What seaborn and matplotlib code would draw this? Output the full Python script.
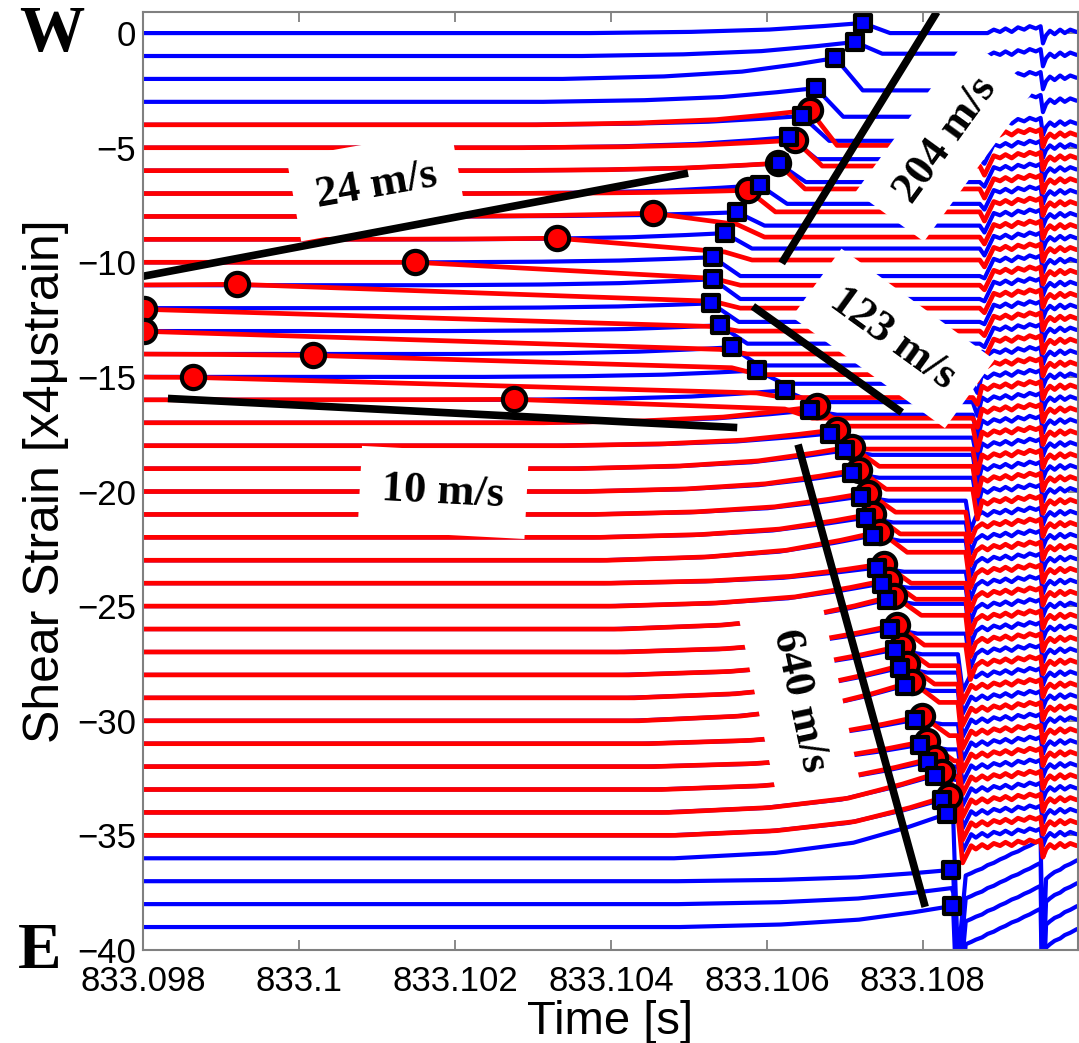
import numpy as np
import pandas as pd
import seaborn as sns
import matplotlib.pyplot as plt

sns.set_style("ticks")
plt.rcParams['font.family'] = ['Liberation Sans', 'DejaVu Sans']
plt.rcParams['text.color'] = 'black'
plt.rcParams['axes.labelcolor'] = 'black'
plt.rcParams['xtick.labelcolor'] = 'black'
plt.rcParams['ytick.labelcolor'] = 'black'

# === DATA (time in ms after 833.098 s, strain offsets in x4 ustrain) ===
T0 = 833.098
BLUE_BASE = [-k for k in range(40)]
RED_BASE = [-k for k in range(4, 36)]

# blue onsets (squares); trace -38 has no marker
BLUE_ON_T = [9.23, 9.13, 8.88, 8.63, 8.45, 8.29, 8.15, 7.91, 7.62, 7.46,
             7.31, 7.31, 7.29, 7.40, 7.55, 7.87, 8.23, 8.55, 8.81, 9.00,
             9.09, 9.21, 9.27, 9.36, 9.41, 9.47, 9.54, 9.58, 9.64, 9.71,
             9.77, 9.90, 9.96, 10.06, 10.15, 10.24, 10.31, 10.36, 10.37, 10.38]
BLUE_ON_Y = [0.44, -0.39, -1.09, -2.40, -3.62, -4.54, -5.68, -6.64, -7.82, -8.73,
             -9.78, -10.74, -11.79, -12.75, -13.71, -14.72, -15.59, -16.46, -17.47, -18.21,
             -19.21, -20.22, -21.14, -21.92, -23.32, -24.02, -24.72, -25.98, -26.90, -27.69,
             -28.47, -29.96, -31.05, -31.79, -32.40, -33.45, -34.06, -36.51, -37.30, -38.08]
BLUE_MARK = [True] * 38 + [False, True]
BLUE_POST_DY = [0.0, 0.1, -0.5, -0.65, -0.7, -0.5, -0.5, -0.45, -0.4, -0.4,
                -0.6, -0.6, -0.6, -0.55, -0.5, -0.3, -0.1, 0.35, 0.35, 0.6,
                0.6, 0.6, 0.65, 0.85, 0.5, 0.8, 1.1, 0.8, 0.9, 1.1,
                1.3, 0.85, 0.75, 1.0, 1.4, 1.35, 1.7, 0.3, 0.5, 0.7]
R_START = [10.80] * 5 + [10.76] * 9 + [10.67] * 7 + [10.58] * 7 + [10.48] * 8 + [10.42] * 4
SPIKE_DY = [0.0] * 5 + [-0.7] * 31 + [-4.5] * 4

# red onsets (circles), traces -4 .. -35
RED_ON_T = [8.55, 8.36, 8.14, 7.76, 6.54, 5.31, 3.49, 1.21, 0.01, 0.01,
            2.18, 0.64, 4.76, 8.64, 8.90, 9.09, 9.18, 9.30, 9.36, 9.45,
            9.50, 9.56, 9.63, 9.67, 9.73, 9.80, 9.86, 9.99, 10.05, 10.15,
            10.24, 10.33]
RED_ON_Y = [-3.36, -4.67, -5.68, -6.86, -7.86, -8.95, -10.0, -10.96, -12.05, -13.01,
            -14.06, -15.02, -15.98, -16.29, -17.30, -18.04, -19.04, -20.05, -20.97, -21.75,
            -23.15, -23.85, -24.55, -25.81, -26.73, -27.52, -28.30, -29.79, -30.88, -31.62,
            -32.23, -33.28]
RED_POST_DY = [-0.9, -0.8, -0.8, -0.8, -0.9, -0.9, -1.0, -1.0, -1.0, -1.0,
               -0.9, -0.9, -0.8, -0.15, -0.15, 0.1, 0.1, 0.1, 0.15, 0.35,
               0.0, 0.3, 0.6, 0.3, 0.4, 0.6, 0.8, 0.35, 0.25, 0.5,
               0.9, 0.85]
# slow red descent after early onsets (traces -8 .. -16)
RED_DESC_K = [8, 9, 10, 11, 12, 13, 14, 15, 16]
RED_DESC_T = [7.62, 7.46, 7.31, 7.31, 7.29, 7.40, 7.55, 7.87, 8.23]
RED_DESC_Y = [-8.35, -9.55, -10.7, -11.7, -12.8, -13.8, -14.6, -15.7, -16.4]

# typical shape of traces before onset and in the late noisy part
RISE_DT = [-3.5, -2.2, -1.2, -0.5, 0.0]
RISE_FRAC = [0.0, 0.12, 0.35, 0.7, 1.0]
PROFILE_T = [10.45, 10.50, 10.55, 10.62, 10.68, 10.76, 10.83, 10.91, 10.99, 11.06,
             11.14, 11.22, 11.30, 11.37, 11.45, 11.51, 11.54, 11.58, 11.63, 11.69,
             11.76, 11.82, 11.89, 11.97, 12.05]
MID_DY = [0.0, -0.55, -0.15, 0.05, -0.1, 0.1, -0.05, 0.15, 0.05, 0.2,
          0.05, 0.25, 0.15, 0.3, 0.2, 0.3, -0.45, -0.1, 0.1, -0.05,
          0.15, 0.0, 0.15, 0.05, 0.1]
BOT_DY = [-4.5, -0.9, -0.75, -0.65, -0.55, -0.45, -0.3, -0.2, -0.05, 0.05,
          0.2, 0.3, 0.45, 0.55, 0.7, 0.8, -4.5, -0.9, -0.75, -0.6,
          -0.5, -0.35, -0.25, -0.1, 0.0]

# fitted velocity lines (start, end)
FIT_LABELS = ['24 m/s', '10 m/s', '204 m/s', '123 m/s', '640 m/s']
FIT_T = [(0.0, 6.99), (0.32, 7.62), (10.18, 8.19), (7.82, 9.73), (8.40, 10.03)]
FIT_Y = [(-10.61, -6.11), (-15.94, -17.21), (0.92, -10.04), (-11.92, -16.55), (-17.95, -38.12)]
LABEL_T = [2.99, 3.85, 10.29, 9.62, 8.42]
LABEL_Y = [-6.64, -20.04, -4.67, -13.32, -29.13]
LABEL_ROT = [10, -3, 54, -36, -78]


def trace_knots(k, base, t_on, y_on, post_dy, shift, desc=None):
    r0 = R_START[k]
    pts = [(-0.2, base)]
    for dt, f in zip(RISE_DT, RISE_FRAC):
        if t_on + dt > 0:
            pts.append((t_on + dt, base + f * (y_on - base)))
    t_last = t_on
    if desc is not None:
        pts.append(desc)
        t_last = desc[0]
    level = base + post_dy
    if t_last + 0.35 < r0 - 0.05:
        pts.append((t_last + 0.35, level))
    pts.append((r0 - 0.03, level))
    prof = BOT_DY if k >= 36 else MID_DY
    pts.append((r0 + 0.03, base + shift + SPIKE_DY[k]))
    for t, dy in zip(PROFILE_T, prof):
        if t > r0 + 0.08:
            pts.append((t, base + shift + dy))
    return pts


rows_b = []
for k, b in enumerate(BLUE_BASE):
    for t, y in trace_knots(k, b, BLUE_ON_T[k], BLUE_ON_Y[k], BLUE_POST_DY[k], 0.0):
        rows_b.append((k, T0 + t / 1000, y))
df_blue = pd.DataFrame(rows_b, columns=['trace', 'time', 'strain'])

rows_r = []
for i, b in enumerate(RED_BASE):
    k = -b
    desc = None
    if k in RED_DESC_K:
        j = RED_DESC_K.index(k)
        desc = (RED_DESC_T[j], RED_DESC_Y[j])
    for t, y in trace_knots(k, b, RED_ON_T[i], RED_ON_Y[i], RED_POST_DY[i], -0.5, desc):
        rows_r.append((k, T0 + t / 1000, y))
df_red = pd.DataFrame(rows_r, columns=['trace', 'time', 'strain'])

df_sq = pd.DataFrame({'time': [T0 + t / 1000 for t, m in zip(BLUE_ON_T, BLUE_MARK) if m],
                      'strain': [y for y, m in zip(BLUE_ON_Y, BLUE_MARK) if m]})
df_ci = pd.DataFrame({'time': [T0 + t / 1000 for t in RED_ON_T], 'strain': RED_ON_Y})

# === PLOT ===
fig = plt.figure(figsize=(10.79, 10.43), dpi=100)
ax = fig.add_axes([0.1325, 0.0892, 0.8666, 0.8993])

sns.lineplot(data=df_blue, x='time', y='strain', units='trace', estimator=None,
             sort=False, color='#0000ff', lw=3.0, legend=False, ax=ax, zorder=2)
sns.lineplot(data=df_red, x='time', y='strain', units='trace', estimator=None,
             sort=False, color='#ff0000', lw=3.4, legend=False, ax=ax, zorder=3)

for lab, (t1, t2), (y1, y2), lt, ly, rot in zip(FIT_LABELS, FIT_T, FIT_Y, LABEL_T, LABEL_Y, LABEL_ROT):
    ax.plot([T0 + t1 / 1000, T0 + t2 / 1000], [y1, y2], color='black', lw=5.5,
            solid_capstyle='butt', zorder=6)
    ax.text(T0 + lt / 1000, ly, lab, rotation=rot, rotation_mode='anchor',
            ha='center', va='center', fontsize=32, fontweight='bold', color='black',
            family=['Liberation Serif', 'DejaVu Serif'], zorder=5,
            bbox=dict(boxstyle='square,pad=0.5', fc='white', ec='none'))

sns.scatterplot(data=df_ci, x='time', y='strain', marker='o', s=280, color='#ff0000',
                edgecolor='black', linewidth=3, legend=False, ax=ax, zorder=7)
sns.scatterplot(data=df_sq, x='time', y='strain', marker='s', s=130, color='#0000ff',
                edgecolor='black', linewidth=3, legend=False, ax=ax, zorder=8)

ax.set_xlim(T0, T0 + 0.01199)
ax.set_ylim(-40, 0.92)
ax.set_xticks([833.098, 833.100, 833.102, 833.104, 833.106, 833.108])
ax.set_xticklabels(['833.098', '833.1', '833.102', '833.104', '833.106', '833.108'])
ax.set_yticks(list(range(0, -41, -5)))
ax.tick_params(direction='in', length=7, width=1.3, color='#808080',
               labelsize=25, top=True, right=True)
ax.tick_params(axis='x', pad=11)
ax.tick_params(axis='y', pad=5)
for sp in ax.spines.values():
    sp.set_color('#808080')
    sp.set_linewidth(1.5)
    sp.set_zorder(9)

ax.set_xlabel('Time [s]', fontsize=34, labelpad=1)
ax.set_ylabel('Shear Strain [x4\u03bcstrain]', fontsize=36, labelpad=6)

fig.text(0.048, 0.966, 'W', fontsize=47, fontweight='bold', ha='center', va='center',
         color='black', family=['Liberation Serif', 'DejaVu Serif'])
fig.text(0.037, 0.087, 'E', fontsize=47, fontweight='bold', ha='center', va='center',
         color='black', family=['Liberation Serif', 'DejaVu Serif'])

fig.savefig('out.png', dpi=100)
